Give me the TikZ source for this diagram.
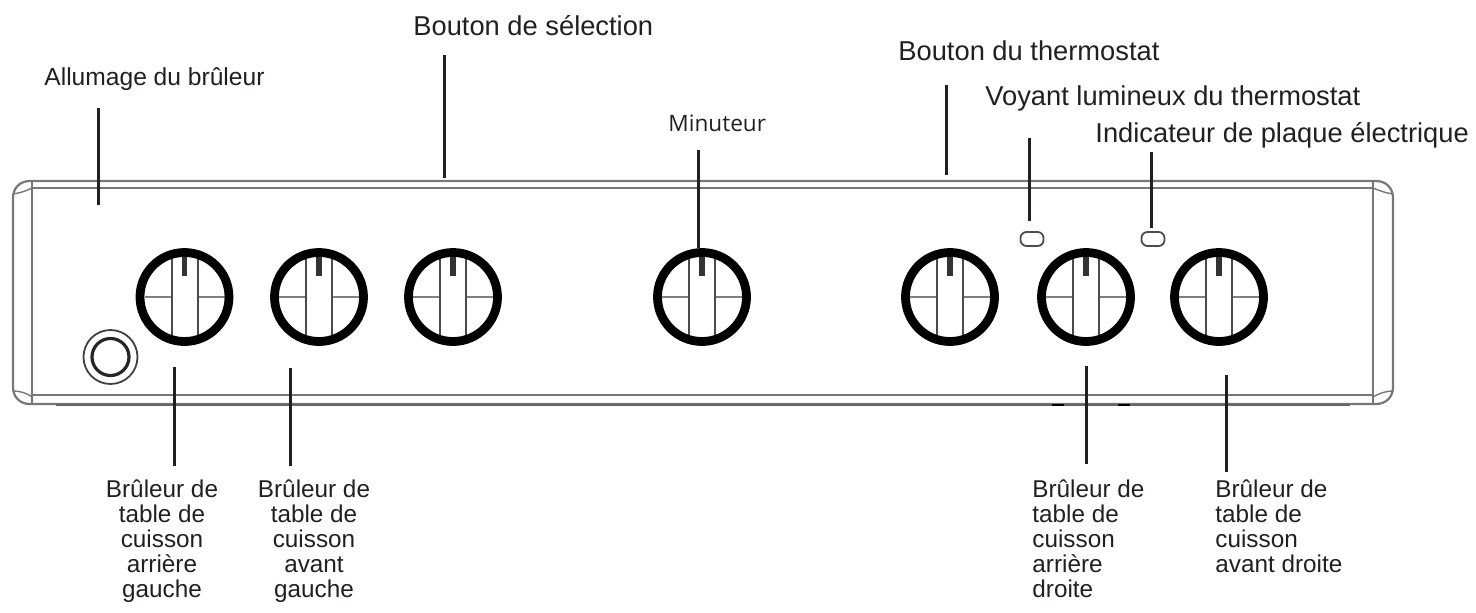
\documentclass[tikz,border=0pt]{standalone}
\usepackage{fontspec}
\setmainfont{Liberation Sans}
\newfontfamily\minfont{Open Sans}
\definecolor{txt}{HTML}{231F20}
\definecolor{edge}{HTML}{777777}
\tikzset{
  x=0.5pt,y=-0.5pt,
  biglabel/.style={inner sep=0pt,anchor=base west,text=txt,font=\fontsize{13.65pt}{16pt}\selectfont},
  smalllabel/.style={inner sep=0pt,anchor=base,text=txt,font=\fontsize{12.15pt}{12.5pt}\selectfont,align=center},
  leftlabel/.style={smalllabel,align=left},
  leader/.style={draw=txt,line width=1.5pt},
  panelline/.style={draw=edge,line width=1.1pt},
  knobring/.style={draw=black,line width=4.4pt},
  knobline/.style={draw=black!70,line width=1pt},
  knobcross/.style={draw=black!50,line width=1pt},
  knobtick/.style={draw=black!80,line width=2.6pt},
  ledbox/.style={draw=black!70,line width=0.9pt,rounded corners=3pt,minimum width=11.5pt,minimum height=7pt,inner sep=0pt},
  pics/knob/.style={code={
    \draw[knobcross] (-40,0) -- (-13,0) (13,0) -- (40,0);
    \draw[knobline] (-13,-43) -- (-13,43) (13,-43) -- (13,43);
    \draw[knobtick] (0,-42) -- (0,-21);
    \draw[knobring] (0,0) circle[radius=44.5];
  }},
}
\begin{document}
\begin{tikzpicture}
\useasboundingbox (0,0) rectangle (1476,612);
% panel
\draw[panelline] (32,181) -- (30,181) .. controls (20,181) and (13,188) .. (13,198) -- (13,387) .. controls (13,397) and (20,404) .. (30,404) -- (1376,404) .. controls (1386,404) and (1393,397) .. (1393,387) -- (1393,198) .. controls (1393,188) and (1386,181) .. (1376,181) -- cycle;
\draw[panelline] (32,181) -- (32,404) (1373,181) -- (1373,404);
\draw[panelline] (32,188) -- (1373,188) (32,395) -- (1373,395);
\draw[panelline,line width=0.7pt] (13,194) .. controls (20,193) and (26,191) .. (32,188)
  (13,391) .. controls (20,391) and (27,393) .. (32,397)
  (1393,194) .. controls (1386,193) and (1380,191) .. (1373,188)
  (1393,391) .. controls (1386,391) and (1380,393) .. (1373,397);
\draw[draw=black!60,line width=1.2pt] (56,405) -- (1350,405);
\draw[draw=black,line width=1.2pt] (1052,405) -- (1064,405) (1118,405) -- (1130,405);
% knobs
\foreach \n/\x in {k1/184.5,k2/319,k3/453,k4/702,k5/950,k6/1086,k7/1219}{
  \coordinate (\n) at (\x,297);
  \pic at (\n) {knob};
}
% ignition
\coordinate (ign) at (110.5,357);
\draw[draw=black!75,line width=0.9pt] (ign) circle[radius=27];
\draw[draw=black!85,line width=1.6pt] (ign) circle[radius=18.5];
% indicators
\node[ledbox] (led1) at (1032,239) {};
\node[ledbox] (led2) at (1153,239) {};
% labels
\node[biglabel] (selection) at (413,35) {Bouton de sélection};
\node[biglabel] (thermo) at (898,60.7) {Bouton du thermostat};
\node[biglabel] (voyant) at (985,105.5) {Voyant lumineux du thermostat};
\node[biglabel] (indic) at (1095,142) {Indicateur de plaque électrique};
\node[biglabel,font=\fontsize{12.3pt}{14pt}\selectfont] (allumage) at (44,85) {Allumage du brûleur};
\node[biglabel,font=\minfont\fontsize{11.3pt}{13pt}\selectfont] (minuteur) at (668,131) {Minuteur};
\node[smalllabel] (b1) at (162,597) {Brûleur de\\table de\\cuisson\\arrière\\gauche};
\node[smalllabel] (b2) at (314,597) {Brûleur de\\table de\\cuisson\\avant\\gauche};
\node[leftlabel,anchor=base west] (b3) at (1032,597) {Brûleur de\\table de\\cuisson\\arrière\\droite};
\node[leftlabel,anchor=base west] (b4) at (1215,572) {Brûleur de\\table de\\cuisson\\avant droite};
% leader ends
\foreach \n/\x/\ya/\yb in {la/98/108/205,lb/444/55/178,lc/698/150/248,ld/946/85/175,le/1029/138/221,lf/1151/152/228,lg/174/367/466,lh/290/368/466,li/1086/366/464,lj/1226/375/472}{
  \coordinate (\n1) at (\x,\ya);
  \coordinate (\n2) at (\x,\yb);
  \draw[leader] (\n1) -- (\n2);
}
\end{tikzpicture}
\end{document}
